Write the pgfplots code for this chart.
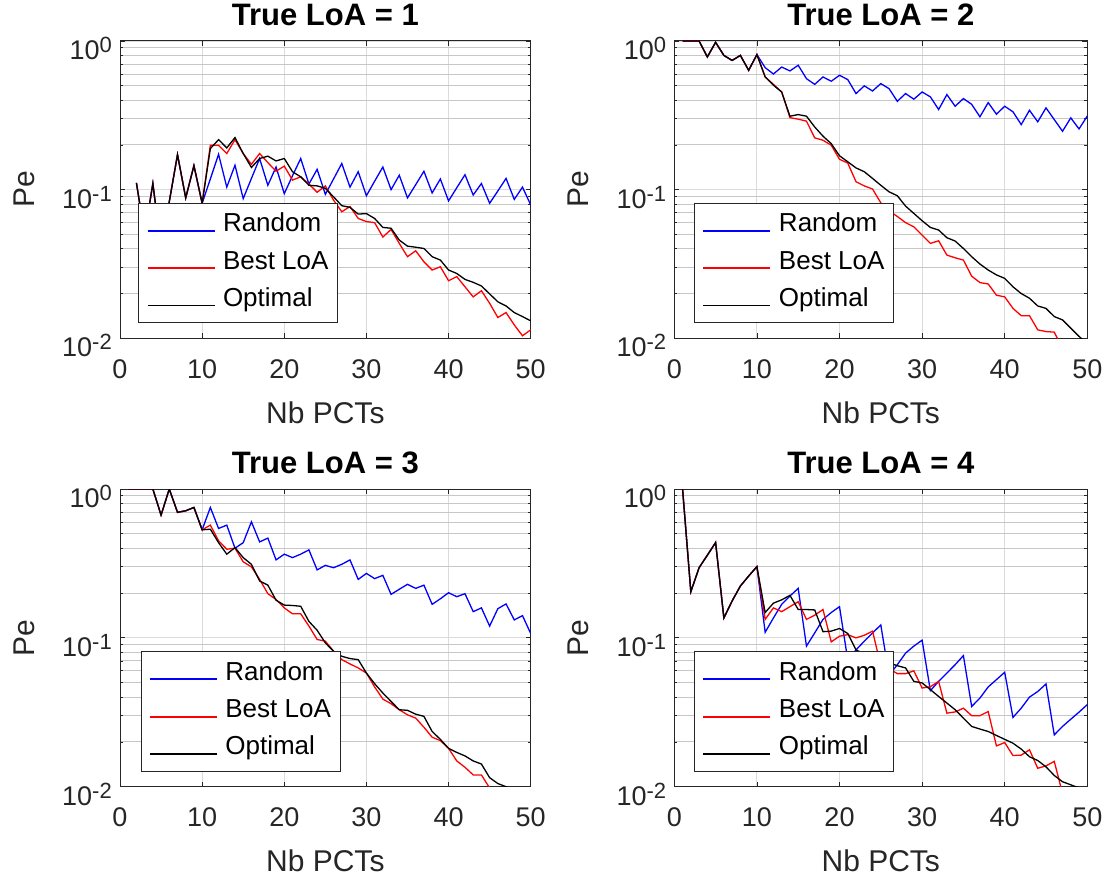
\documentclass[border=0pt]{standalone}
\usepackage{fontspec}
\setmainfont{Liberation Sans}
\usepackage{pgfplots}
\usepackage{pgfplotstable}
\pgfplotsset{compat=1.18}

\pgfplotstableread{
x R B O
2 0.111 0.111 0.111
3 0.05 0.05 0.05
4 0.11 0.11 0.11
5 0.04 0.04 0.04
6 0.083 0.083 0.083
7 0.172 0.172 0.172
8 0.088 0.088 0.088
9 0.145 0.145 0.145
10 0.081 0.081 0.081
11 0.118 0.199 0.189
12 0.173 0.199 0.217
13 0.104 0.175 0.191
14 0.146 0.217 0.224
15 0.087 0.175 0.175
16 0.119 0.148 0.141
17 0.162 0.175 0.162
18 0.107 0.152 0.168
19 0.142 0.133 0.156
20 0.094 0.144 0.162
21 0.124 0.116 0.132
22 0.162 0.122 0.122
23 0.109 0.109 0.107
24 0.137 0.096 0.106
25 0.093 0.106 0.102
26 0.118 0.085 0.0895
27 0.150 0.071 0.078
28 0.104 0.077 0.076
29 0.132 0.064 0.0685
30 0.091 0.061 0.069
31 0.114 0.060 0.064
32 0.142 0.048 0.0557
33 0.100 0.054 0.055
34 0.125 0.0435 0.0458
35 0.088 0.0354 0.0417
36 0.108 0.0388 0.041
37 0.133 0.0327 0.0402
38 0.095 0.0288 0.0354
39 0.118 0.0303 0.0336
40 0.084 0.0244 0.0288
41 0.103 0.026 0.0273
42 0.126 0.0222 0.0249
43 0.092 0.019 0.0238
44 0.110 0.0209 0.0225
45 0.081 0.0172 0.0199
46 0.098 0.0138 0.0176
47 0.119 0.0149 0.0165
48 0.086 0.0123 0.0149
49 0.104 0.0104 0.014
50 0.079 0.0114 0.0131
}\tabA

\pgfplotstableread{
x R B O
1 1 1 1
2 1 1 1
3 1 1 1
4 0.781 0.781 0.781
5 0.98 0.98 0.98
6 0.80 0.80 0.80
7 0.74 0.74 0.74
8 0.80 0.80 0.80
9 0.635 0.635 0.635
10 0.81 0.81 0.81
11 0.662 0.573 0.573
12 0.60 0.511 0.504
13 0.668 0.454 0.454
14 0.629 0.305 0.312
15 0.687 0.298 0.320
16 0.558 0.289 0.312
17 0.511 0.223 0.264
18 0.573 0.215 0.229
19 0.536 0.199 0.204
20 0.588 0.160 0.169
21 0.550 0.151 0.154
22 0.443 0.113 0.140
23 0.499 0.106 0.132
24 0.461 0.101 0.119
25 0.517 0.0816 0.107
26 0.478 0.072 0.0967
27 0.393 0.066 0.091
28 0.443 0.060 0.0775
29 0.406 0.0562 0.0692
30 0.454 0.0494 0.0618
31 0.421 0.0435 0.0557
32 0.346 0.0453 0.0535
33 0.436 0.0363 0.0475
34 0.364 0.0348 0.0451
35 0.410 0.0336 0.0402
36 0.375 0.0262 0.0354
37 0.309 0.0237 0.0316
38 0.385 0.0232 0.0288
39 0.322 0.0195 0.0267
40 0.364 0.019 0.0253
41 0.334 0.0159 0.0222
42 0.274 0.0142 0.020
43 0.342 0.0142 0.0186
44 0.286 0.0114 0.0165
45 0.355 0.0111 0.0159
46 0.296 0.011 0.014
47 0.247 0.0085 0.0133
48 0.304 0.008 0.0117
49 0.256 0.0072 0.0103
50 0.313 0.0065 0.0092
}\tabB

\pgfplotstableread{
x R B O
1 1 1 1
2 1 1 1
3 1 1 1
4 1 1 1
5 0.668 0.668 0.668
6 1 1 1
7 0.697 0.697 0.697
8 0.714 0.714 0.714
9 0.752 0.752 0.752
10 0.532 0.532 0.532
11 0.752 0.572 0.537
12 0.543 0.449 0.436
13 0.572 0.394 0.365
14 0.40 0.40 0.404
15 0.436 0.324 0.346
16 0.602 0.30 0.312
17 0.441 0.247 0.241
18 0.468 0.198 0.226
19 0.334 0.181 0.179
20 0.365 0.159 0.166
21 0.346 0.145 0.165
22 0.365 0.145 0.163
23 0.390 0.120 0.129
24 0.286 0.0975 0.1125
25 0.307 0.095 0.0925
26 0.296 0.0813 0.0813
27 0.312 0.0714 0.0752
28 0.334 0.0668 0.0726
29 0.247 0.0628 0.0714
30 0.271 0.058 0.058
31 0.250 0.0468 0.0492
32 0.263 0.0388 0.0426
33 0.196 0.0361 0.0374
34 0.212 0.0329 0.0329
35 0.229 0.0304 0.0326
36 0.215 0.0289 0.0307
37 0.226 0.0251 0.0297
38 0.168 0.0215 0.0235
39 0.183 0.0204 0.0208
40 0.201 0.0181 0.0181
41 0.189 0.0149 0.017
42 0.198 0.0135 0.0161
43 0.150 0.012 0.0149
44 0.159 0.012 0.0142
45 0.120 0.0098 0.0115
46 0.157 0.0088 0.0105
47 0.169 0.008 0.0100
48 0.132 0.0075 0.0092
49 0.141 0.007 0.0085
50 0.107 0.0065 0.008
}\tabC

\pgfplotstableread{
x R B O
1 1 1 1
2 0.204 0.204 0.204
3 0.296 0.296 0.296
4 0.359 0.359 0.359
5 0.437 0.437 0.437
6 0.136 0.136 0.136
7 0.177 0.177 0.177
8 0.223 0.223 0.223
9 0.26 0.26 0.26
10 0.301 0.301 0.301
11 0.109 0.133 0.148
12 0.136 0.159 0.171
13 0.168 0.150 0.18
14 0.191 0.162 0.193
15 0.215 0.175 0.155
16 0.088 0.133 0.155
17 0.108 0.142 0.154
18 0.133 0.155 0.11
19 0.148 0.094 0.111
20 0.162 0.1026 0.1156
21 0.071 0.105 0.107
22 0.083 0.10 0.083
23 0.095 0.104 0.078
24 0.108 0.111 0.075
25 0.122 0.065 0.072
26 0.056 0.062 0.068
27 0.066 0.0575 0.065
28 0.079 0.0575 0.0628
29 0.088 0.060 0.051
30 0.0965 0.046 0.0498
31 0.0442 0.047 0.0449
32 0.051 0.051 0.0404
33 0.058 0.0312 0.0365
34 0.066 0.0318 0.0329
35 0.076 0.0337 0.0289
36 0.0346 0.030 0.0254
37 0.0394 0.030 0.0244
38 0.0468 0.032 0.0235
39 0.0524 0.0188 0.0221
40 0.0587 0.0198 0.0208
41 0.0292 0.0162 0.0196
42 0.0337 0.0163 0.0179
43 0.040 0.0177 0.0159
44 0.0436 0.0133 0.015
45 0.049 0.0138 0.0136
46 0.0223 0.0148 0.0119
47 0.0254 0.009 0.0108
48 0.0284 0.0088 0.0103
49 0.0317 0.0085 0.0098
50 0.0356 0.008 0.0095
}\tabD

\definecolor{axgray}{RGB}{38,38,38}
\definecolor{mblue}{RGB}{0,0,255}
\definecolor{mred}{RGB}{255,0,0}

\newcommand{\expo}[1]{\raisebox{7pt}{\fontsize{22}{22}\selectfont #1}}

\pgfplotsset{
  legend image code/.code={\node[#1, inner sep=0pt, anchor=west] at (0pt,0pt) {\rule{67pt}{1.8pt}};},
  every axis/.append style={
    scale only axis,
    xmin=0, xmax=50, ymin=0.01, ymax=1,
    xtick={0,10,20,30,40,50},
    ytick={0.01,0.1,1},
    yticklabels={10\expo{-2},10\expo{-1},10\expo{0}},
    minor ytick={0.02,0.03,0.04,0.05,0.06,0.07,0.08,0.09,0.2,0.3,0.4,0.5,0.6,0.7,0.8,0.9},
    xmajorgrids, ymajorgrids, yminorgrids,
    major grid style={black!14, line width=0.9pt},
    minor grid style={black!22, line width=0.9pt},
    axis line style={axgray, line width=1pt},
    tick style={axgray, line width=0.8pt},
    major tick length=5pt, minor tick length=3pt,
    tick align=inside,
    xticklabel style={font=\fontsize{27}{27}\selectfont, text=axgray, anchor=north, inner sep=0pt, yshift=-21pt},
    yticklabel style={font=\fontsize{27}{27}\selectfont, text=axgray, anchor=east, inner sep=0pt, xshift=-8pt, yshift=-7.5pt},
    xlabel style={font=\fontsize{30}{30}\selectfont, text=axgray, at={(axis description cs:0.5,0)}, anchor=north, inner sep=0pt, yshift=-63pt},
    ylabel style={font=\fontsize{30}{30}\selectfont, text=axgray, anchor=south, inner sep=0pt},
    title style={font=\bfseries\fontsize{31}{31}\selectfont, at={(axis description cs:0.5,1)}, anchor=south, inner sep=0pt, yshift=9pt},
    legend style={anchor=south west, draw=axgray, fill=white,
      font=\fontsize{26}{26}\selectfont,
      nodes={inner xsep=0pt, inner ysep=0pt, text height=19pt, text depth=6pt},
      column sep=8.5pt, row sep=12.3pt, inner xsep=9pt, inner ysep=10pt},
    legend cell align=left,
  },
}

\begin{document}
\begin{tikzpicture}
\useasboundingbox (0pt,0pt) rectangle (1111pt,884pt);

\begin{semilogyaxis}[at={(120pt,545.7pt)}, anchor=south west, width=410.7pt, height=297.3pt,
  /pgf/number format/assume math mode=true,
  title={True LoA = 1}, xlabel={Nb PCTs}, ylabel={Pe},
  ylabel style={at={(axis description cs:-0.207,0.5)}},
  legend style={at={(axis description cs:0.0446,0.0525)}}]
\addplot[color=mblue, line width=1.3pt] table[x=x,y=R]{\tabA};
\addplot[color=mred, line width=1.3pt] table[x=x,y=B]{\tabA};
\addplot[color=black, line width=1.3pt] table[x=x,y=O]{\tabA};
\legend{Random,Best LoA,Optimal}
\end{semilogyaxis}

\begin{semilogyaxis}[at={(674.3pt,545.7pt)}, anchor=south west, width=413pt, height=297.3pt,
  /pgf/number format/assume math mode=true,
  title={True LoA = 2}, xlabel={Nb PCTs}, ylabel={Pe},
  ylabel style={at={(axis description cs:-0.206,0.5)}},
  legend style={at={(axis description cs:0.0484,0.0525)}}]
\addplot[color=mblue, line width=1.3pt] table[x=x,y=R]{\tabB};
\addplot[color=mred, line width=1.3pt] table[x=x,y=B]{\tabB};
\addplot[color=black, line width=1.3pt] table[x=x,y=O]{\tabB};
\legend{Random,Best LoA,Optimal}
\end{semilogyaxis}

\begin{semilogyaxis}[at={(120pt,97.3pt)}, anchor=south west, width=410.7pt, height=297.7pt,
  /pgf/number format/assume math mode=true,
  title={True LoA = 3}, xlabel={Nb PCTs}, ylabel={Pe},
  ylabel style={at={(axis description cs:-0.207,0.5)}},
  legend style={at={(axis description cs:0.0504,0.0527)}}]
\addplot[color=mblue, line width=1.3pt] table[x=x,y=R]{\tabC};
\addplot[color=mred, line width=1.3pt] table[x=x,y=B]{\tabC};
\addplot[color=black, line width=1.3pt] table[x=x,y=O]{\tabC};
\legend{Random,Best LoA,Optimal}
\end{semilogyaxis}

\begin{semilogyaxis}[at={(674.3pt,97.3pt)}, anchor=south west, width=413pt, height=297.7pt,
  /pgf/number format/assume math mode=true,
  title={True LoA = 4}, xlabel={Nb PCTs}, ylabel={Pe},
  ylabel style={at={(axis description cs:-0.206,0.5)}},
  legend style={at={(axis description cs:0.0484,0.0527)}}]
\addplot[color=mblue, line width=1.3pt] table[x=x,y=R]{\tabD};
\addplot[color=mred, line width=1.3pt] table[x=x,y=B]{\tabD};
\addplot[color=black, line width=1.3pt] table[x=x,y=O]{\tabD};
\legend{Random,Best LoA,Optimal}
\end{semilogyaxis}
\end{tikzpicture}
\end{document}
